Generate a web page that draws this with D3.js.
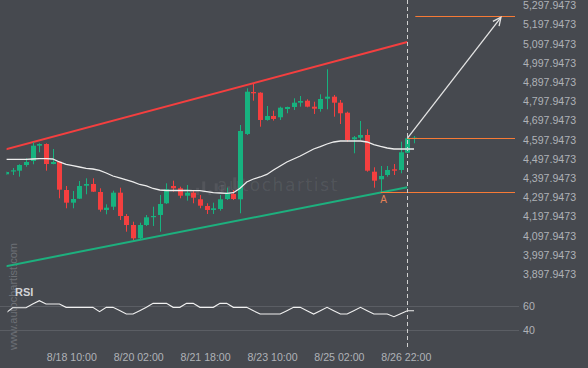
<!DOCTYPE html>
<html><head><meta charset="utf-8">
<script src="https://cdn.jsdelivr.net/npm/d3@7"></script>
<style>html,body{margin:0;padding:0;background:#46494f;}svg{display:block}</style>
</head><body><svg id="c" width="588" height="368"></svg>
<script>
// ---- data ----
const open = [4410.5,4426,4429.2,4458.9,4479.7,4559.4,4568.3,4464.1,4476.1,4328.7,4262.6,4283.4,4351.1,4360,4318.3,4224.6,4241.7,4314.7,4193.3,4146.4,4077.2,4146.4,4188.1,4198.5,4259.5,4349.6,4337.6,4299,4314.7,4280.3,4245.4,4224.6,4229.8,4281.8,4307.9,4280.3,4620.4,4839.1,4835.5,4693.3,4714.1,4707.4,4750.6,4761,4783.4,4793.8,4762.6,4750.6,4804.2,4814.7,4783.4,4731.3,4592.8,4601.1,4615.2,4424,4384.5,4406.8,4436.5,4432.9,4523,4595.9];
const high = [4425,4443.3,4462.5,4493.8,4577.1,4571.9,4571.9,4542.3,4479.7,4349.6,4323.5,4375.6,4389.7,4389.7,4337.6,4254.2,4325.1,4340.7,4203.7,4163.6,4158.4,4198.5,4241.7,4302.7,4363.6,4377.2,4345.9,4354.8,4325.1,4302.7,4259.5,4262.6,4302.7,4340.7,4328.7,4667.3,4858.4,4880.8,4838,4766.2,4741.7,4762.6,4762.6,4806.3,4818.3,4801.1,4788.6,4827.2,4957.4,4823.5,4797.5,4736.5,4610,4688.1,4644.9,4447,4453.7,4453.7,4464.1,4580.3,4606.3,4610];
const low = [4406.8,4406.8,4398,4450,4462.5,4525,4429.2,4462.5,4285.5,4233.4,4233.4,4281.8,4306.3,4318,4215.7,4202.2,4224.6,4172.5,4111.5,4068.3,4068.3,4141.2,4141.2,4111.5,4255.8,4319.9,4285.5,4273,4259.5,4233.4,4203.7,4203.7,4220.9,4276.6,4276.6,4207.4,4615.2,4793.8,4658.4,4689.7,4690,4693.3,4728.2,4745.4,4762.6,4759.4,4724.6,4736.5,4749,4710.5,4672.5,4580.3,4519.9,4589.1,4424,4340.7,4316.7,4398,4406.8,4415.7,4519.9,4571.9];
const close = [4422.4,4431.3,4458.9,4474.6,4559.4,4568.3,4464.1,4474.6,4330.3,4262.6,4281.8,4349.6,4360,4319.9,4226.1,4236.5,4314.7,4193.3,4146.4,4077.2,4146.4,4186.5,4193.3,4255.8,4332.4,4337.6,4299,4314.7,4288.6,4247,4224.6,4233.4,4280.3,4314.7,4281.8,4636,4840.7,4832.4,4693.3,4714.1,4698.5,4757.4,4761,4783.4,4792.3,4762.6,4752.2,4802.7,4814.7,4783.4,4728.2,4589.1,4603.2,4615.2,4429.2,4377.2,4401.6,4432.9,4429.2,4525.1,4597.9473,4601.1];
const sma = [4488.6,4488.6,4488.6,4488.6,4490.2,4491.7,4491.7,4490.2,4474.6,4462.5,4455.3,4448.5,4441.7,4438.1,4431.3,4417.3,4401.6,4391.2,4380.8,4370.4,4357.4,4349.6,4336.5,4328.7,4326.1,4326.1,4326.1,4326.1,4325.1,4325.1,4319.9,4314.7,4313.1,4311.5,4314.7,4337.6,4370.4,4386,4396.4,4409.5,4432.9,4453.7,4474.6,4490.2,4505.8,4524,4542.3,4554.2,4568.3,4578.7,4583.9,4583.9,4583.9,4583.9,4578.7,4564.7,4555.3,4547.5,4542.3,4542.3,4542.3,4542.3];
const rsi = [54.2,58.6,58.6,58.6,61.6,64.4,61.6,61.6,61.6,58.9,58.9,58.9,58.9,58.9,55.3,58.9,58.9,56.3,53.4,53.4,56.1,58.9,62.2,62.2,62.2,58.9,58.9,62.2,62.2,58.9,58.9,58.9,62.2,62.2,58.9,58.9,58.9,56.1,53.4,53.4,53.4,53.4,56.1,58.9,58.9,56.1,53.4,56.1,58.9,56.1,53.4,53.4,56.1,58.9,56.1,53.4,53.4,53.4,51.2,53.7,56.1,56.1];
const xTickIndex = [10,20,30,40,50,60];
const xTickLabels = ["8/18 10:00","8/20 02:00","8/21 18:00","8/23 10:00","8/25 02:00","8/26 22:00"];
const priceTicks = d3.range(0,15).map(k => 3897.9473 + k*100);
const rsiTicks = [40,60];
// channel lines: [index, price]
const resistanceChannel = [[0,4540.7],[60,5099.5]];
const supportChannel = [[0,3931.8],[60,4342.7]];
// pattern levels
const breakoutLevel = {from:60, to:76.1, price:4597.9473};
const supportLevel = {from:56, to:76.1, price:4315.6};
const targetLevel = {from:61.2, to:76.1, price:5234.9};
const forecastArrow = [[60,4597.9473],[74,5228.2]];
const pointA = {index:56, price:4315.6, label:"A"};

// ---- scales ----
const svg = d3.select("#c");
const x = d3.scaleLinear().domain([0,60]).range([5.9,407.3]);
const y = d3.scaleLinear().domain([3897.9473,5297.9473]).range([272.7,3.9]);
const yr = d3.scaleLinear().domain([40,60]).range([330.3,306]);
const RED = "#f43f3f", GREEN = "#17b27f", ORANGE = "#f77a36";
const FONT = "'Liberation Sans', Arial, sans-serif";

const defs = svg.append("defs");
defs.append("clipPath").attr("id","cp").append("rect").attr("x",6.6).attr("y",0).attr("width",513).attr("height",282);
defs.append("clipPath").attr("id","cr").append("rect").attr("x",7.5).attr("y",282).attr("width",513).attr("height",60);

// ---- watermarks ----
const wm = svg.append("g");
const logoBars = [[0,3,5],[1,4,7.3],[2,6,11.6],[3,4,5],[4,8,7.7],[5,7,7.3],[6,7,5.7],[7,10,11.7]];
const wmx = x(27.5), wmy = y(4240);
logoBars.forEach(b => {
  wm.append("rect").attr("x", wmx + b[0]*6.2).attr("y", wmy - 8 - b[1] - b[2]).attr("width",3).attr("height",b[2])
    .attr("fill","rgba(255,255,255,0.07)");
});
wm.append("text").attr("x",217).attr("y",191).text("autochartist")
  .attr("font-family","'DejaVu Sans', sans-serif").attr("font-size",17).attr("letter-spacing",1.6)
  .attr("fill","rgba(255,255,255,0.08)");
wm.append("text").attr("transform","translate(17,350) rotate(-90)").text("www.autochartist.com")
  .attr("font-family",FONT).attr("font-size",11).attr("fill","#6d7076");

// ---- RSI grid ----
svg.append("g").selectAll("line").data(rsiTicks).join("line")
  .attr("x1",0).attr("x2",519).attr("y1",d=>Math.round(yr(d))+0.5).attr("y2",d=>Math.round(yr(d))+0.5)
  .attr("stroke","#5b5e64").attr("stroke-width",1);

// ---- main panel ----
const g = svg.append("g").attr("clip-path","url(#cp)");
const line = d3.line().x(d=>x(d[0])).y(d=>y(d[1]));
g.append("path").attr("d",line(resistanceChannel)).attr("stroke",RED).attr("stroke-width",2).attr("fill","none");
g.append("path").attr("d",line(supportChannel)).attr("stroke","#1db07e").attr("stroke-width",2).attr("fill","none");

const idx = d3.range(open.length);
const cx = i => Math.round(x(i));
g.append("g").selectAll("line").data(idx).join("line")
  .attr("x1",i=>cx(i)+0.5).attr("x2",i=>cx(i)+0.5)
  .attr("y1",i=>y(high[i])).attr("y2",i=>y(low[i]))
  .attr("stroke",i=>close[i]>=open[i]?GREEN:RED).attr("stroke-width",1);
g.append("g").selectAll("rect").data(idx).join("rect")
  .attr("x",i=>cx(i)-2).attr("width",5)
  .attr("y",i=>y(Math.max(open[i],close[i])))
  .attr("height",i=>Math.max(1.2,Math.abs(y(open[i])-y(close[i]))))
  .attr("fill",i=>close[i]>=open[i]?GREEN:RED);

g.append("path").attr("d",d3.line().x((d,i)=>x(i)).y(d=>y(d))(sma))
  .attr("stroke","#ececec").attr("stroke-width",1.3).attr("fill","none");

// pattern levels
[breakoutLevel, supportLevel, targetLevel].forEach(l => {
  g.append("line").attr("x1",x(l.from)).attr("x2",x(l.to))
    .attr("y1",Math.floor(y(l.price))+0.5).attr("y2",Math.floor(y(l.price))+0.5)
    .attr("stroke",ORANGE).attr("stroke-width",1);
});

// forecast arrow
const a0 = [x(forecastArrow[0][0]), y(forecastArrow[0][1])];
const a1 = [x(forecastArrow[1][0]), y(forecastArrow[1][1])];
g.append("line").attr("x1",a0[0]).attr("y1",a0[1]).attr("x2",a1[0]).attr("y2",a1[1])
  .attr("stroke","#e4e4e4").attr("stroke-width",1.3);
const ang = Math.atan2(a1[1]-a0[1], a1[0]-a0[0]);
const hl = 9, ha = 0.45;
const p1 = [a1[0]-hl*Math.cos(ang-ha), a1[1]-hl*Math.sin(ang-ha)];
const p2 = [a1[0]-hl*Math.cos(ang+ha), a1[1]-hl*Math.sin(ang+ha)];
g.append("path").attr("d",`M${p1[0]},${p1[1]}L${a1[0]},${a1[1]}L${p2[0]},${p2[1]}`)
  .attr("stroke","#e4e4e4").attr("stroke-width",1.3).attr("fill","none");

// point A label
svg.append("text").attr("x",x(pointA.index)+3).attr("y",y(pointA.price)+10.5).text(pointA.label)
  .attr("text-anchor","middle").attr("font-family",FONT).attr("font-size",10).attr("fill","#e58257");

// ---- RSI line ----
svg.append("g").attr("clip-path","url(#cr)").append("path")
  .attr("d",d3.line().x((d,i)=>x(i)).y(d=>yr(d))(rsi))
  .attr("stroke","#f0f0f0").attr("stroke-width",1.1).attr("fill","none");
svg.append("text").attr("x",15).attr("y",295.5).text("RSI")
  .attr("font-family",FONT).attr("font-size",11).attr("font-weight","bold").attr("fill","#d2d4d7");

// current-time dashed line
svg.append("line").attr("x1",cx(60)+0.5).attr("x2",cx(60)+0.5).attr("y1",0).attr("y2",350)
  .attr("stroke","#d0d0d0").attr("stroke-width",1).attr("stroke-dasharray","4,3");

// ---- axes ----
const axY = svg.append("g").attr("transform","translate(523,0)")
  .call(d3.axisRight(y).tickValues(priceTicks).tickFormat(d3.format(",.4f")).tickSize(0).tickPadding(0));
const axR = svg.append("g").attr("transform","translate(523,0)")
  .call(d3.axisRight(yr).tickValues(rsiTicks).tickSize(0).tickPadding(0));
const axX = svg.append("g").attr("transform","translate(0,350)")
  .call(d3.axisBottom(x).tickValues(xTickIndex).tickFormat((d,i)=>xTickLabels[i]).tickSize(0).tickPadding(3));
[axY,axR,axX].forEach(a => {
  a.select(".domain").remove();
  a.selectAll("text").attr("font-family",FONT).attr("font-size",10.6).attr("fill","#afb2b7");
});
axY.selectAll("text").attr("y",1.3);
axX.selectAll("text").attr("dx",-1.5);
</script></body></html>
